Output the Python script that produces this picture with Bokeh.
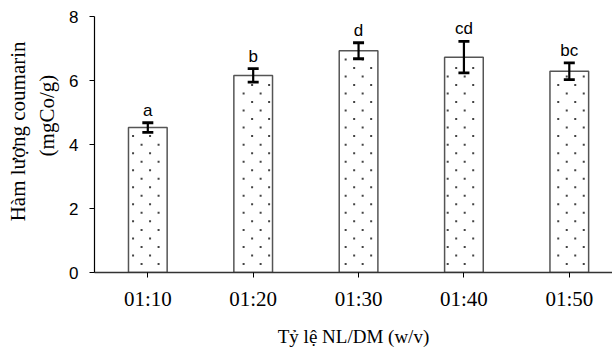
from bokeh.plotting import figure
from bokeh.models import ColumnDataSource, Whisker, FixedTicker, LabelSet
from bokeh.core.properties import value
from bokeh.embed import file_html
from bokeh.resources import INLINE

categories = ["01:10", "01:20", "01:30", "01:40", "01:50"]
means = [4.53, 6.16, 6.93, 6.73, 6.29]
errors = [0.15, 0.21, 0.25, 0.49, 0.26]
letters = ["a", "b", "d", "cd", "bc"]

SANS = "'Liberation Sans', Arial, sans-serif"
SERIF = "'Liberation Serif', 'Times New Roman', serif"
NB = "\u00a0"

BAR_W = 0.367
xs = list(range(1, len(categories) + 1))
upper = [m + e for m, e in zip(means, errors)]
lower = [m - e for m, e in zip(means, errors)]
src = ColumnDataSource(dict(x=xs, top=means, upper=upper, lower=lower, lab=letters))

# staggered dot texture (emulating a dotted fill pattern) inside each bar
TEX_DX, TEX_X0, TEX_DY = 0.0807, 0.860, 0.2664
dot_x, dot_y = [], []
for xc, top in zip(xs, means):
    left, right = xc - BAR_W / 2 + 0.018, xc + BAR_W / 2 - 0.018
    k = 1
    while k * TEX_DY < top - 0.12:
        m_lo = int((left - TEX_X0) / TEX_DX) - 2
        m_hi = int((right - TEX_X0) / TEX_DX) + 2
        for m in range(m_lo, m_hi + 1):
            if (m - k) % 2:
                continue
            xv = TEX_X0 + m * TEX_DX
            if left < xv < right:
                dot_x.append(xv)
                dot_y.append(k * TEX_DY)
        k += 1

p = figure(width=612, height=349, output_backend="svg", toolbar_location=None,
           x_range=(0.494, 5.41), y_range=(0, 8),
           min_border_left=94, min_border_right=0, min_border_top=16, min_border_bottom=77)
p.outline_line_color = None
p.xgrid.visible = False
p.ygrid.visible = False

p.vbar(x="x", top="top", width=BAR_W, bottom=0, source=src,
       fill_color="white", line_color="#555555", line_width=1.5)
p.scatter(dot_x, dot_y, marker="square", size=2, fill_color="#444444", line_color=None)

w = Whisker(base="x", upper="upper", lower="lower", source=src, dimension="height",
            line_color="black", line_width=2.2, level="annotation")
w.upper_head.size = 11
w.lower_head.size = 11
w.upper_head.line_width = 2.8
w.lower_head.line_width = 2.8
w.upper_head.line_color = "black"
w.lower_head.line_color = "black"
p.add_layout(w)

labels = LabelSet(x="x", y="upper", text="lab", source=src, text_align="center",
                  text_baseline="bottom", y_offset=3, text_font=value(SANS),
                  text_font_size="17px", text_color="black")
p.add_layout(labels)

p.yaxis.ticker = FixedTicker(ticks=[0, 2, 4, 6, 8])
p.yaxis.minor_tick_line_color = None
p.yaxis.major_tick_out = 5
p.yaxis.major_tick_in = 0
p.yaxis.axis_line_color = "black"
p.yaxis.axis_line_width = 1.2
p.yaxis.major_tick_line_color = "black"
p.yaxis.major_label_text_font = SANS
p.yaxis.major_label_text_font_size = "17px"
p.yaxis.major_label_text_color = "black"
p.yaxis.major_label_standoff = 11
p.yaxis.axis_label = NB * 5 + "Hàm lượng coumarin\n" + NB * 11 + "(mgCo/g)"
p.yaxis.axis_label_text_font = SERIF
p.yaxis.axis_label_text_font_style = "normal"
p.yaxis.axis_label_text_font_size = "21px"
p.yaxis.axis_label_text_color = "black"
p.yaxis.axis_label_standoff = 7

p.xaxis.ticker = FixedTicker(ticks=xs)
p.xaxis.major_label_overrides = {i: c for i, c in zip(xs, categories)}
p.xaxis.minor_tick_line_color = None
p.xaxis.major_tick_out = 5
p.xaxis.major_tick_in = 0
p.xaxis.axis_line_color = "#333333"
p.xaxis.axis_line_width = 1.5
p.xaxis.major_tick_line_color = "black"
p.xaxis.major_label_text_font = SERIF
p.xaxis.major_label_text_font_size = "21px"
p.xaxis.major_label_text_color = "black"
p.xaxis.major_label_standoff = 9
p.xaxis.axis_label = "Tỷ lệ NL/DM (w/v)"
p.xaxis.axis_label_text_font = SERIF
p.xaxis.axis_label_text_font_style = "normal"
p.xaxis.axis_label_text_font_size = "19px"
p.xaxis.axis_label_text_color = "black"
p.xaxis.axis_label_standoff = 12

open("out.html", "w").write(file_html(p, INLINE))
